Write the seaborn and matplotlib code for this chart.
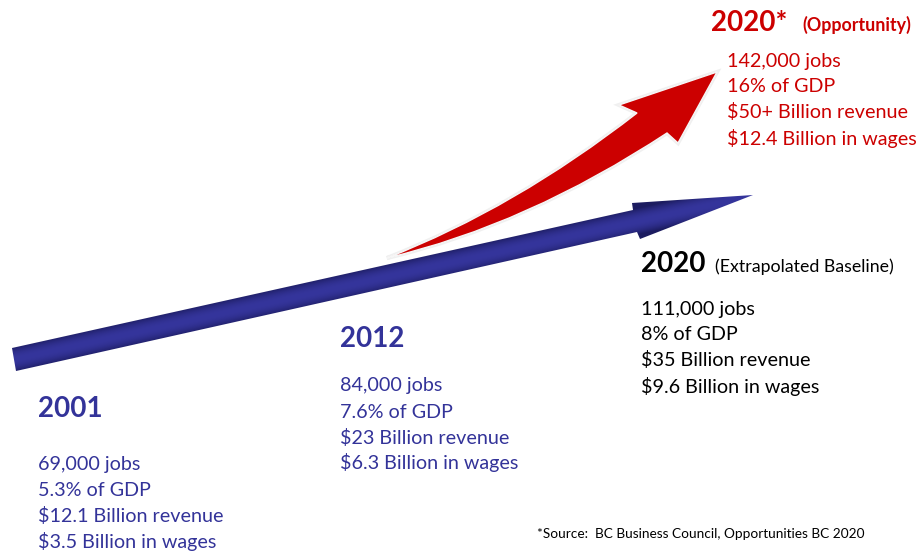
import numpy as np
import matplotlib
matplotlib.use("Agg")
import matplotlib.pyplot as plt
import seaborn as sns
from matplotlib.patches import Polygon, PathPatch
from matplotlib.path import Path
import matplotlib.patheffects as pe

# ---------------- data ----------------
years = ["2001", "2012", "2020", "2020*"]
subtitles = ["", "", "(Extrapolated Baseline)", "(Opportunity)"]
jobs = [69000, 84000, 111000, 142000]
gdp_pct = [5.3, 7.6, 8, 16]
revenue = ["$12.1", "$23", "$35", "$50+"]
wages = [3.5, 6.3, 9.6, 12.4]
source_note = "*Source:  BC Business Council, Opportunities BC 2020"

# ---------------- style ----------------
sns.set_theme(style="white")
plt.rcParams["font.family"] = ["Lato", "DejaVu Sans"]

BLUE_TXT = "#333399"
RED = "#CC0000"
colors = [BLUE_TXT, BLUE_TXT, "#000000", RED]

# layout (pixel space): title x, title baseline, body x, first body baseline
title_x = [38, 340, 641, 711]
title_base = [417, 347, 272, 31]
body_x = [38, 340, 641, 727]
body_base = [470, 391.5, 314.5, 66.5]
line_gap = 26

W, H = 920, 552
fig = plt.figure(figsize=(W / 100, H / 100), dpi=100)
ax = fig.add_axes([0, 0, 1, 1])
ax.set_xlim(0, W)
ax.set_ylim(H, 0)
ax.axis("off")

# ---------------- blue arrow (straight) ----------------
blue_pts = np.array([(12, 348), (633, 210), (632, 203), (753, 195),
                     (640, 239), (637, 232), (16, 371)])
blue_poly = Polygon(blue_pts, closed=True, facecolor="none", edgecolor="none")
ax.add_patch(blue_poly)
# gradient across the shaft
p0 = np.array([14.0, 359.5])
d = np.array([623.0, -138.0])
d /= np.linalg.norm(d)
n = np.array([-d[1], d[0]])
yy, xx = np.mgrid[0:H, 0:W] + 0.5
s = (xx - p0[0]) * n[0] + (yy - p0[1]) * n[1]
t = np.clip(np.abs(s) / 13.0, 0, 1) ** 2
center = np.array([0x35, 0x35, 0x9C]) / 255
edge = np.array([0x1C, 0x1C, 0x60]) / 255
rgb = center[None, None, :] * (1 - t[..., None]) + edge[None, None, :] * t[..., None]
im = ax.imshow(rgb, extent=(0, W, H, 0), origin="upper", aspect="auto", zorder=2)
im.set_clip_path(blue_poly)

# ---------------- red arrow (curved) ----------------
verts = [
    (387, 258),
    (515, 208), (637, 113),      # top edge (quadratic)
    (619, 105),                  # upper barb
    (717, 72),                   # tip
    (678, 143),                  # lower barb
    (667, 133),                  # shaft bottom junction
    (527, 225), (387, 258),      # bottom edge (quadratic)
    (387, 258),
]
codes = [Path.MOVETO, Path.CURVE3, Path.CURVE3, Path.LINETO, Path.LINETO,
         Path.LINETO, Path.LINETO, Path.CURVE3, Path.CURVE3, Path.CLOSEPOLY]
red_patch = PathPatch(Path(verts, codes), facecolor=RED, edgecolor="#f6f6f6",
                      linewidth=1.0, zorder=3)
red_patch.set_path_effects([pe.withStroke(linewidth=3, foreground="#f0f0f0"), pe.Normal()])
ax.add_patch(red_patch)

ax.set_xlim(0, W)
ax.set_ylim(H, 0)

# ---------------- text blocks ----------------
for i in range(len(years)):
    c = colors[i]
    ax.text(title_x[i], title_base[i], years[i], color=c, fontsize=20,
            fontweight="bold", ha="left", va="baseline", zorder=5)
    if subtitles[i]:
        if i == 3:
            ax.text(802, title_base[i], subtitles[i], color=c, fontsize=12.9,
                    fontweight="bold", ha="left", va="baseline", zorder=5)
        else:
            ax.text(715, title_base[i], subtitles[i], color=c, fontsize=12.8,
                    ha="left", va="baseline", zorder=5)
    lines = [f"{jobs[i]:,} jobs", f"{gdp_pct[i]:g}% of GDP",
             f"{revenue[i]} Billion revenue", f"${wages[i]:g} Billion in wages"]
    for k, ln in enumerate(lines):
        ax.text(body_x[i], body_base[i] + k * line_gap, ln, color=c, fontsize=14.2,
                ha="left", va="baseline", zorder=5)

ax.text(537, 538, source_note, color="#000000", fontsize=9.8, ha="left",
        va="baseline", zorder=5)

fig.savefig("out.png", dpi=100)
